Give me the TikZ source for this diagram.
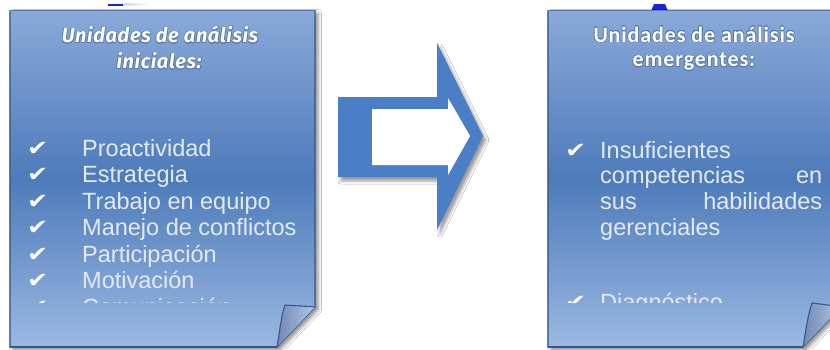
\documentclass[tikz,border=0pt]{standalone}
\usepackage{fontspec}
\setmainfont{Liberation Sans}
\newfontfamily\titleA[LetterSpace=3]{Fira Sans}
\newfontfamily\titleB[LetterSpace=4]{Carlito}
\newfontfamily\checkfont{DejaVu Sans}
\usepackage[copies]{contour}
\usetikzlibrary{shadows.blur}
\definecolor{paneltop}{HTML}{8AA9D8}
\definecolor{panelmid}{HTML}{4D7BBA}
\definecolor{panelbot}{HTML}{9BB8E2}
\definecolor{paneledge}{HTML}{34588C}
\definecolor{flapdark}{HTML}{7089B6}
\definecolor{flaplight}{HTML}{B2C5E4}
\definecolor{arrowblue}{HTML}{4A7EC7}
\definecolor{itemtext}{HTML}{E4EAF4}
\definecolor{glow}{HTML}{5A79A8}
\definecolor{pinblue}{HTML}{1A22D8}
\contourlength{0.6pt}
\contournumber{16}
\tikzset{
  paneshadow/.style={fill=panelmid, blur shadow={shadow xshift=3pt, shadow yshift=-3pt, shadow blur radius=3.5pt, shadow opacity=45}},
  paneshade/.style={top color=paneltop, bottom color=panelbot, middle color=panelmid},
  paneline/.style={draw=paneledge, line width=1.1pt, line join=round},
  flapshade/.style={left color=flapdark, right color=flaplight},
  ttlA/.style={text=white, font=\titleA\bfseries\itshape\fontsize{20}{24}\selectfont, inner sep=0pt},
  ttlB/.style={text=white, font=\titleB\bfseries\fontsize{22}{26}\selectfont, inner sep=0pt},
  item/.style={text=itemtext, font=\fontsize{23.5}{27}\selectfont, inner sep=0pt, anchor=base west},
  chk/.style={text=white, font=\checkfont\fontsize{21}{24}\selectfont, inner sep=0pt, anchor=base west},
}
\newcommand{\ck}{\scalebox{1.2}[1]{✔}}
\begin{document}
\begin{tikzpicture}[x=1pt,y=-1pt]
\useasboundingbox (0,0) rectangle (830,349);
\clip (0,0) rectangle (830,349);
\fill[white] (0,0) rectangle (830,349);

% small blue marks at the top edge
\shade[left color=gray!30, right color=white] (122,3.5) rectangle (150,5.5);
\fill[pinblue] (108,3.5) rectangle (123,5.5);
\fill[pinblue] (651,11) -- (654,4) -- (665,4) -- (668,11) -- cycle;

% ---------- left panel ----------
\path[paneshadow] (10,10) -- (315,10) -- (315,307) -- (277,347) -- (10,347) -- cycle;
\shade[paneshade] (10,10) -- (315,10) -- (315,307) -- (277,347) -- (10,347) -- cycle;
\draw[paneline] (315,10) -- (315,307) -- (277,347) -- (10,347) -- (10,10);
\draw[paneledge!60!paneltop, line width=0.8pt] (10,10) -- (315,10);
\draw[paneledge, line width=2pt] (10,347) -- (277,347);
\shade[flapshade] (277,347) .. controls (280,330) and (281,316) .. (285,305) .. controls (295,306) and (306,306) .. (315,307) -- cycle;
\draw[paneline] (277,347) .. controls (280,330) and (281,316) .. (285,305) .. controls (295,306) and (306,306) .. (315,307);

\node[ttlA] (tl1) at (160,35) {\contour{glow}{Unidades de análisis}};
\node[ttlA] (tl2) at (159,61) {\contour{glow}{iniciales:}};

\begin{scope}
\clip (10,10) rectangle (315,302);
\foreach \t [count=\i] in {Proactividad,Estrategia,Trabajo en equipo,Manejo de conflictos,Participación,Motivación,Comunicación}{
  \node[chk] (lc\i) at (27,{155+26.5*(\i-1)}) {\ck};
  \node[item] (li\i) at (82,{156+26.5*(\i-1)}) {\t};
}
\end{scope}

% ---------- arrow ----------
\path[fill=arrowblue, even odd rule, blur shadow={shadow xshift=3pt, shadow yshift=-4pt, shadow blur radius=3pt, shadow opacity=40}]
  (338,97) -- (437,97) -- (437,43) -- (483,136) -- (437,230) -- (437,177) -- (338,177) -- cycle
  (372,109) -- (448,109) -- (448,98) -- (470,136) -- (448,175) -- (448,165) -- (372,165) -- cycle;
\fill[white] (372,109) -- (448,109) -- (448,98) -- (470,136) -- (448,175) -- (448,165) -- (372,165) -- cycle;

% ---------- right panel ----------
\path[paneshadow] (548,10) -- (841,10) -- (841,307) -- (803,347) -- (548,347) -- cycle;
\shade[paneshade] (548,10) -- (841,10) -- (841,307) -- (803,347) -- (548,347) -- cycle;
\draw[paneline] (841,10) -- (841,307) -- (803,347) -- (548,347) -- (548,10);
\draw[paneledge!60!paneltop, line width=0.8pt] (548,10) -- (841,10);
\draw[paneledge, line width=2pt] (548,347) -- (803,347);
\shade[flapshade] (803,347) .. controls (806,330) and (808,314) .. (812,303) .. controls (822,304) and (832,306) .. (841,307) -- cycle;
\draw[paneline] (803,347) .. controls (806,330) and (808,314) .. (812,303) .. controls (822,304) and (832,306) .. (841,307);

\node[ttlB] (tr1) at (694,35) {\contour{glow}{Unidades de análisis}};
\node[ttlB] (tr2) at (694,62) {\contour{glow}{emergentes:}};

\begin{scope}
\clip (548,10) rectangle (841,302);
\node[chk] (rc1) at (565,157) {\ck};
\node[item] (ri1) at (600,158) {Insuficientes};
\node[item, text width=222pt] (ri2) at (600,183.7) {competencias\hfill en};
\node[item, text width=222pt] (ri3) at (600,209.4) {sus\hfill habilidades};
\node[item] (ri4) at (600,235) {gerenciales};
\node[chk] (rc2) at (565,309) {\ck};
\node[item] (ri5) at (600,310) {Diagnóstico};
\end{scope}
\end{tikzpicture}
\end{document}
